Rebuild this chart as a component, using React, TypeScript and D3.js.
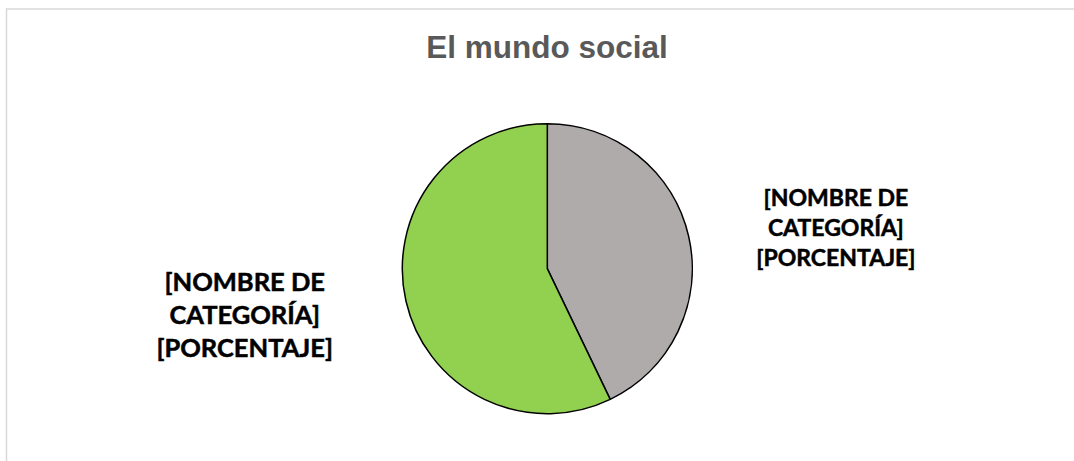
import React, { useEffect, useRef } from 'react';
import * as d3 from 'd3';

// slices, clockwise from 12 o'clock
const categories = ['Categoría 1', 'Categoría 2'];
const values = [3, 4];
const colors = ['#AFABAB', '#92D050'];
const labelLines = ['[NOMBRE DE', 'CATEGORÍA]', '[PORCENTAJE]'];
const title = 'El mundo social';

const W = 1074, H = 461;

export default function App() {
  const ref = useRef<SVGSVGElement>(null);

  useEffect(() => {
    const svg = d3.select(ref.current);
    svg.selectAll('*').remove();

    // chart area frame (only top and left edges visible)
    svg.append('path')
      .attr('d', 'M6.5,' + H + ' L6.5,9 L' + W + ',9')
      .attr('fill', 'none')
      .attr('stroke', '#d9d9d9')
      .attr('stroke-width', 1.5);

    svg.append('text')
      .attr('x', 547)
      .attr('y', 58)
      .attr('text-anchor', 'middle')
      .style('font-family', 'Liberation Sans, Arial, sans-serif')
      .style('font-weight', 'bold')
      .style('font-size', '31.5px')
      .style('fill', '#595959')
      .text(title);

    const cx = 547.3, cy = 268.7, r = 145;
    const pie = d3.pie<number>().sort(null).value((d) => d);
    const arcs = pie(values);
    const arc = d3.arc<d3.PieArcDatum<number>>().innerRadius(0).outerRadius(r);
    const labelArc = d3.arc<d3.PieArcDatum<number>>().innerRadius(296).outerRadius(296);

    const g = svg.append('g').attr('transform', 'translate(' + cx + ',' + cy + ')');
    g.selectAll('path.slice')
      .data(arcs)
      .enter()
      .append('path')
      .attr('class', 'slice')
      .attr('d', arc)
      .attr('fill', (d, i) => colors[i])
      .attr('stroke', '#000')
      .attr('stroke-width', 1.5)
      .attr('stroke-linejoin', 'round');

    // Excel nudged the labels a bit, per slice: [dx, dy, font size, line height]
    const labelStyle = [
      [0, 25, 23, 30],
      [-14, -20, 25.5, 33],
    ];

    arcs.forEach((d, i) => {
      const [lx, ly] = labelArc.centroid(d);
      const [dx, dy, fs, lh] = labelStyle[i];
      const t = g.append('text')
        .attr('text-anchor', 'middle')
        .attr('data-category', categories[i])
        .style('font-family', 'Lato, sans-serif')
        .style('font-weight', 'bold')
        .style('font-size', fs + 'px')
        .style('fill', '#000')
        .style('stroke', '#000')
        .style('stroke-width', 0.5);
      const y0 = ly + dy - ((labelLines.length - 1) * lh) / 2 + fs * 0.36;
      labelLines.forEach((line, j) => {
        t.append('tspan')
          .attr('x', lx + dx)
          .attr('y', y0 + j * lh)
          .text(line);
      });
    });
  }, []);

  return (
    <svg
      ref={ref}
      width={W}
      height={H}
      style={{ position: 'absolute', left: 0, top: 0, background: '#fff' }}
    />
  );
}
